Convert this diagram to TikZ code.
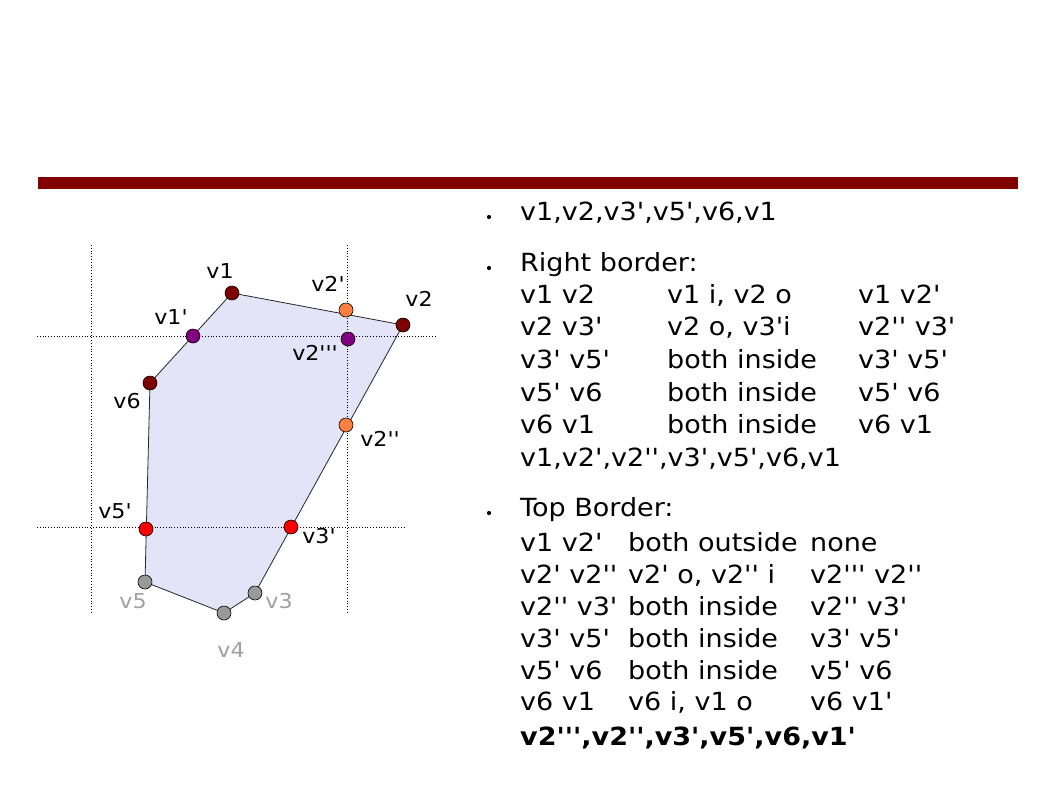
\documentclass[tikz,border=0pt]{standalone}
\usepackage{fontspec}
\setmainfont{DejaVu Sans}[Ligatures=TeXOff,FakeStretch=1.08]
\definecolor{barred}{HTML}{800000}
\definecolor{polyfill}{HTML}{E4E4F8}
\definecolor{dkred}{HTML}{800000}
\definecolor{orng}{HTML}{FF7F40}
\definecolor{purp}{HTML}{800080}
\definecolor{rd}{HTML}{FF0000}
\definecolor{gry}{HTML}{999999}
\definecolor{gtxt}{HTML}{A0A0A0}
\begin{document}
\begin{tikzpicture}[x=1pt,y=-1pt,
  dot/.style={circle, draw=black, line width=0.6pt, minimum size=14pt, inner sep=0pt},
  lbl/.style={font=\fontsize{20.5}{24}\selectfont, inner sep=0pt},
  glbl/.style={lbl, text=gtxt},
  txt/.style={anchor=base west, inner sep=0pt, font=\fontsize{25}{30}\selectfont},
  bul/.style={circle, fill=black, inner sep=0pt, minimum size=4.2pt},
  guide/.style={dotted, line width=0.8pt},
  edge/.style={draw=black!85, line width=0.8pt}]
\useasboundingbox (0,0) rectangle (1058,793);
% title bar
\fill[barred] (38,177) rectangle (1018,189);
% polygon coordinates
\coordinate (p1) at (232,293);
\coordinate (p2) at (403,325);
\coordinate (p3) at (255,593);
\coordinate (p4) at (224,613);
\coordinate (p5) at (145,582);
\coordinate (p6) at (150,383);
\fill[polyfill] (p1) -- (p2) -- (p3) -- (p4) -- (p5) -- (p6) -- cycle;
\draw[edge] (p1) -- (p2) -- (p3) -- (p4) -- (p5) -- (p6) -- cycle;
% clipping window guides
\coordinate (gl1) at (91,245);  \coordinate (gl2) at (91,612);
\coordinate (gr1) at (347,245); \coordinate (gr2) at (347,612);
\coordinate (gt1) at (37,336);  \coordinate (gt2) at (437,336);
\coordinate (gb1) at (37,527);  \coordinate (gb2) at (405,527);
\draw[guide] (gl1) -- (gl2);
\draw[guide] (gr1) -- (gr2);
\draw[guide] (gt1) -- (gt2);
\draw[guide] (gb1) -- (gb2);
% vertices
\node[dot, fill=dkred] (v1) at (p1) {};
\node[dot, fill=dkred] (v2) at (p2) {};
\node[dot, fill=dkred] (v6) at (p6) {};
\node[dot, fill=gry] (v3) at (p3) {};
\node[dot, fill=gry] (v4) at (p4) {};
\node[dot, fill=gry] (v5) at (p5) {};
\node[dot, fill=orng] (v2a) at (346,310) {};
\node[dot, fill=orng] (v2b) at (346,425) {};
\node[dot, fill=purp] (v2c) at (348,339) {};
\node[dot, fill=purp] (v1a) at (193,336) {};
\node[dot, fill=rd] (v5a) at (146,529) {};
\node[dot, fill=rd] (v3a) at (291,527) {};
% labels
\node[lbl] (l1) at (220,271) {v1};
\node[lbl] (l2a) at (328,284) {v2'};
\node[lbl] (l2) at (419,299) {v2};
\node[lbl] (l1a) at (171,317) {v1'};
\node[lbl] (l2c) at (315,353) {v2'''};
\node[lbl] (l6) at (127,401) {v6};
\node[lbl] (l2b) at (380,439) {v2''};
\node[lbl] (l5a) at (115,511) {v5'};
\node[lbl] (l3a) at (319,536) {v3'};
\node[glbl] (l5) at (133,601) {v5};
\node[glbl] (l3) at (279,601) {v3};
\node[glbl] (l4) at (231,650) {v4};
% bullets
\node[bul] (b1) at (489,217) {};
\node[bul] (b2) at (489,268) {};
\node[bul] (b3) at (489,513) {};
% text
\node[txt] (t0) at (520,220) {v1,v2,v3',v5',v6,v1};
\node[txt] (r0) at (520,271.5) {Right border:};
\node[txt] (r1a) at (520,303) {v1 v2};
\node[txt] (r1b) at (667,303) {v1 i, v2 o};
\node[txt] (r1c) at (858,303) {v1 v2'};
\node[txt] (r2a) at (520,335.7) {v2 v3'};
\node[txt] (r2b) at (667,335.7) {v2 o, v3'i};
\node[txt] (r2c) at (858,335.7) {v2'' v3'};
\node[txt] (r3a) at (520,368.4) {v3' v5'};
\node[txt] (r3b) at (667,368.4) {both inside};
\node[txt] (r3c) at (858,368.4) {v3' v5'};
\node[txt] (r4a) at (520,401) {v5' v6};
\node[txt] (r4b) at (667,401) {both inside};
\node[txt] (r4c) at (858,401) {v5' v6};
\node[txt] (r5a) at (520,433.8) {v6 v1};
\node[txt] (r5b) at (667,433.8) {both inside};
\node[txt] (r5c) at (858,433.8) {v6 v1};
\node[txt] (r6) at (520,466.5) {v1,v2',v2'',v3',v5',v6,v1};
\node[txt] (s0) at (520,516.5) {Top Border:};
\node[txt] (s1a) at (520,551.7) {v1 v2'};
\node[txt] (s1b) at (628,551.7) {both outside};
\node[txt] (s1c) at (810,551.7) {none};
\node[txt] (s2a) at (520,583.5) {v2' v2''};
\node[txt] (s2b) at (628,583.5) {v2' o, v2'' i};
\node[txt] (s2c) at (810,583.5) {v2''' v2''};
\node[txt] (s3a) at (520,615.3) {v2'' v3'};
\node[txt] (s3b) at (628,615.3) {both inside};
\node[txt] (s3c) at (810,615.3) {v2'' v3'};
\node[txt] (s4a) at (520,647) {v3' v5'};
\node[txt] (s4b) at (628,647) {both inside};
\node[txt] (s4c) at (810,647) {v3' v5'};
\node[txt] (s5a) at (520,679) {v5' v6};
\node[txt] (s5b) at (628,679) {both inside};
\node[txt] (s5c) at (810,679) {v5' v6};
\node[txt] (s6a) at (520,710.7) {v6 v1};
\node[txt] (s6b) at (628,710.7) {v6 i, v1 o};
\node[txt] (s6c) at (810,710.7) {v6 v1'};
\node[txt, font=\fontsize{25}{30}\selectfont\bfseries] (s7) at (520,745.5) {v2''',v2'',v3',v5',v6,v1'};
\end{tikzpicture}
\end{document}
